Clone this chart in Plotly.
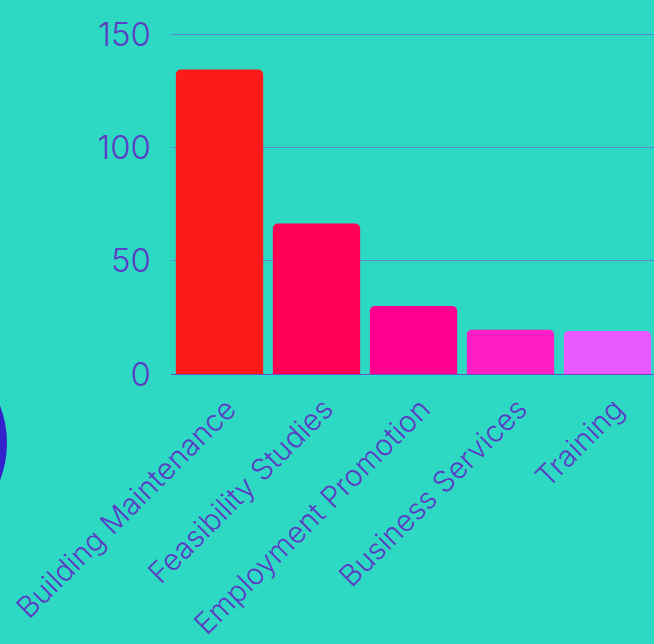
import plotly.graph_objects as go

categories = ["Building Maintenance", "Feasibility Studies", "Employment Promotion", "Business Services", "Training"]
values = [134.5, 66.5, 30, 19.5, 19]
bar_colors = ["#FF1A1A", "#FF0055", "#FF0090", "#FF1EC4", "#E85AFF"]

BG = "#2ED9C3"
TXT = "#5B3CC4"
FONT = "Inter"

fig = go.Figure(go.Bar(
    x=categories, y=values,
    marker=dict(color=bar_colors, cornerradius=5, line=dict(width=0)),
    width=0.9,
))

L, R, T, B = 171, 0, 30, 270
W, H = 656, 644
pw = W - L - R
ph = H - T - B
cx, cy, rad = -97, 443, 104
fig.add_shape(type="circle", xref="paper", yref="paper",
              x0=(cx - rad - L) / pw, x1=(cx + rad - L) / pw,
              y0=(H - B - cy - rad) / ph, y1=(H - B - cy + rad) / ph,
              fillcolor="#3322CC", line=dict(width=0), layer="below")

fig.update_layout(
    width=W, height=H,
    margin=dict(l=L, r=R, t=T, b=B, pad=0),
    paper_bgcolor=BG, plot_bgcolor=BG,
    font=dict(family=FONT, color=TXT),
    showlegend=False,
    bargap=0.1,
)
fig.update_xaxes(tickangle=-45, tickfont=dict(size=29.5, color=TXT, family=FONT, weight=300),
                 showline=True, linecolor="#6A52C8", linewidth=1, ticks="", showgrid=False,
                 ticklabelstandoff=5, ticklabelshift=8)
fig.update_yaxes(range=[0, 152], tickvals=[0, 50, 100, 150],
                 tickfont=dict(size=33, color=TXT, family=FONT, weight=300),
                 gridcolor="#5C86D2", gridwidth=1, zeroline=False, ticks="",
                 ticklabelstandoff=19)

fig.write_html("out.html", config={"displayModeBar": False},
               post_script="document.body.style.margin='0';document.body.style.overflow='hidden';document.body.style.background='%s';" % BG)
